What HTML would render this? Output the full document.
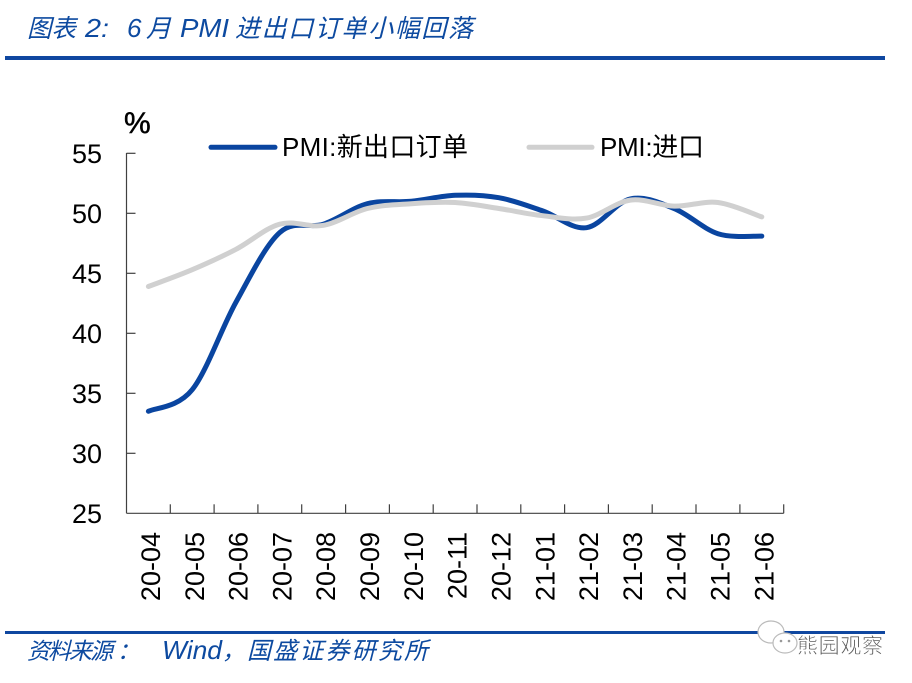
<!DOCTYPE html>
<html>
<head>
<meta charset="utf-8">
<style>
  html, body { margin:0; padding:0; background:#ffffff; }
  body { width:912px; height:683px; overflow:hidden; }
  svg { display:block; }
</style>
</head>
<body>
<svg width="912" height="683" viewBox="0 0 912 683" xmlns="http://www.w3.org/2000/svg">
  <rect x="0" y="0" width="912" height="683" fill="#ffffff"/>

  <!-- Title -->
  <g fill="#0d4aa0" font-style="italic" font-family="Liberation Sans, Noto Sans CJK SC, sans-serif">
    <text x="27" y="37" font-size="25" textLength="49" lengthAdjust="spacingAndGlyphs">图表</text>
    <text x="85" y="37" font-size="26" textLength="24" lengthAdjust="spacingAndGlyphs">2:</text>
    <text x="127" y="37" font-size="26">6</text>
    <text x="146" y="37" font-size="25">月</text>
    <text x="180" y="37" font-size="26" textLength="49" lengthAdjust="spacingAndGlyphs">PMI</text>
    <text x="235" y="37" font-size="25" textLength="238" lengthAdjust="spacing">进出口订单小幅回落</text>
  </g>
  <!-- top rule -->
  <rect x="5" y="56" width="880" height="4" fill="#0f47a0"/>

  <!-- Axes -->
  <g stroke="#404040" stroke-width="1.2" fill="none">
    <line x1="126.5" y1="153" x2="126.5" y2="513.3"/>
    <line x1="126.5" y1="513.3" x2="783.7" y2="513.3"/>
    <line x1="126.5" y1="153.3" x2="135.5" y2="153.3"/>
    <line x1="126.5" y1="213.3" x2="135.5" y2="213.3"/>
    <line x1="126.5" y1="273.3" x2="135.5" y2="273.3"/>
    <line x1="126.5" y1="333.3" x2="135.5" y2="333.3"/>
    <line x1="126.5" y1="393.3" x2="135.5" y2="393.3"/>
    <line x1="126.5" y1="453.3" x2="135.5" y2="453.3"/>
    <line x1="170.3" y1="504.3" x2="170.3" y2="513.3"/>
    <line x1="214.1" y1="504.3" x2="214.1" y2="513.3"/>
    <line x1="257.9" y1="504.3" x2="257.9" y2="513.3"/>
    <line x1="301.7" y1="504.3" x2="301.7" y2="513.3"/>
    <line x1="345.6" y1="504.3" x2="345.6" y2="513.3"/>
    <line x1="389.4" y1="504.3" x2="389.4" y2="513.3"/>
    <line x1="433.2" y1="504.3" x2="433.2" y2="513.3"/>
    <line x1="477.0" y1="504.3" x2="477.0" y2="513.3"/>
    <line x1="520.8" y1="504.3" x2="520.8" y2="513.3"/>
    <line x1="564.6" y1="504.3" x2="564.6" y2="513.3"/>
    <line x1="608.4" y1="504.3" x2="608.4" y2="513.3"/>
    <line x1="652.2" y1="504.3" x2="652.2" y2="513.3"/>
    <line x1="696.0" y1="504.3" x2="696.0" y2="513.3"/>
    <line x1="739.9" y1="504.3" x2="739.9" y2="513.3"/>
    <line x1="783.7" y1="504.3" x2="783.7" y2="513.3"/>
  </g>

  <!-- Y labels -->
  <g font-family="Liberation Sans, sans-serif" font-size="27" fill="#000" text-anchor="end">
    <text x="102" y="163">55</text>
    <text x="102" y="223">50</text>
    <text x="102" y="283">45</text>
    <text x="102" y="343">40</text>
    <text x="102" y="403">35</text>
    <text x="102" y="463">30</text>
    <text x="102" y="523">25</text>
  </g>
  <text x="124" y="133" font-family="Liberation Sans, sans-serif" font-size="30" fill="#000" stroke="#000" stroke-width="0.5">%</text>

  <!-- X labels -->
  <g font-family="Liberation Sans, sans-serif" font-size="27" fill="#000" text-anchor="end">
    <text transform="translate(160,532) rotate(-90)">20-04</text>
    <text transform="translate(203.8,532) rotate(-90)">20-05</text>
    <text transform="translate(247.6,532) rotate(-90)">20-06</text>
    <text transform="translate(291.4,532) rotate(-90)">20-07</text>
    <text transform="translate(335.2,532) rotate(-90)">20-08</text>
    <text transform="translate(379.0,532) rotate(-90)">20-09</text>
    <text transform="translate(422.9,532) rotate(-90)">20-10</text>
    <text transform="translate(466.7,532) rotate(-90)">20-11</text>
    <text transform="translate(510.5,532) rotate(-90)">20-12</text>
    <text transform="translate(554.3,532) rotate(-90)">21-01</text>
    <text transform="translate(598.1,532) rotate(-90)">21-02</text>
    <text transform="translate(641.9,532) rotate(-90)">21-03</text>
    <text transform="translate(685.7,532) rotate(-90)">21-04</text>
    <text transform="translate(729.6,532) rotate(-90)">21-05</text>
    <text transform="translate(773.4,532) rotate(-90)">21-06</text>
  </g>

  <!-- Series: blue (new export orders) -->
  <path fill="none" stroke="#0a45a0" stroke-width="5" stroke-linecap="round" stroke-linejoin="round"
    d="M148.4,411.3
       C155.7,407.7 177.6,407.9 192.2,389.7
       C206.8,371.5 221.4,328.3 236.0,302.1
       C250.6,275.9 265.2,245.5 279.8,232.5
       C294.4,219.5 309.0,228.9 323.6,224.1
       C338.2,219.3 352.8,207.5 367.4,203.7
       C382.0,199.9 396.7,202.7 411.3,201.3
       C425.9,199.9 440.5,195.9 455.1,195.3
       C469.7,194.7 484.3,195.1 498.9,197.7
       C513.5,200.3 528.1,205.9 542.7,210.9
       C557.3,215.9 571.9,229.7 586.5,227.7
       C601.1,225.7 615.7,202.1 630.3,198.9
       C644.9,195.7 659.5,202.7 674.1,208.5
       C688.7,214.3 703.4,229.1 718.0,233.7
       C732.6,238.3 754.5,235.7 761.8,236.1"/>

  <!-- Series: gray (imports) -->
  <path fill="none" stroke="#d0d0d0" stroke-width="5" stroke-linecap="round" stroke-linejoin="round"
    d="M148.4,286.5
       C155.7,283.7 177.6,275.9 192.2,269.7
       C206.8,263.5 221.4,256.9 236.0,249.3
       C250.6,241.7 265.2,228.1 279.8,224.1
       C294.4,220.1 309.0,227.9 323.6,225.3
       C338.2,222.7 352.8,212.1 367.4,208.5
       C382.0,204.9 396.7,204.7 411.3,203.7
       C425.9,202.7 440.5,201.7 455.1,202.5
       C469.7,203.3 484.3,206.3 498.9,208.5
       C513.5,210.7 528.1,214.1 542.7,215.7
       C557.3,217.3 571.9,220.7 586.5,218.1
       C601.1,215.5 615.7,202.1 630.3,200.1
       C644.9,198.1 659.5,205.7 674.1,206.1
       C688.7,206.5 703.4,200.7 718.0,202.5
       C732.6,204.3 754.5,214.5 761.8,216.9"/>

  <!-- Legend -->
  <line x1="211" y1="147.3" x2="275" y2="147.3" stroke="#0a45a0" stroke-width="5" stroke-linecap="round"/>
  <text x="282" y="156" font-family="Liberation Sans, Noto Sans CJK SC, sans-serif" font-size="26" fill="#000" textLength="186" lengthAdjust="spacing">PMI:新出口订单</text>
  <line x1="529" y1="147.3" x2="592" y2="147.3" stroke="#d0d0d0" stroke-width="5" stroke-linecap="round"/>
  <text x="600" y="156" font-family="Liberation Sans, Noto Sans CJK SC, sans-serif" font-size="26" fill="#000" textLength="104" lengthAdjust="spacing">PMI:进口</text>

  <!-- bottom rule -->
  <rect x="5" y="631" width="880" height="3" fill="#0f47a0"/>

  <!-- Footer source -->
  <g fill="#0d4aa0" font-style="italic" font-family="Liberation Sans, Noto Sans CJK SC, sans-serif">
    <text x="27" y="659" font-size="23" textLength="86" lengthAdjust="spacing">资料来源</text>
    <text x="117" y="659" font-size="23">：</text>
    <text x="162" y="659" font-size="26" textLength="60" lengthAdjust="spacingAndGlyphs">Wind</text>
    <text x="222" y="659" font-size="23">，</text>
    <text x="247" y="659" font-size="24" textLength="181" lengthAdjust="spacing">国盛证券研究所</text>
  </g>

  <!-- Watermark -->
  <g>
    <ellipse cx="771" cy="632" rx="13" ry="11" fill="#ffffff" stroke="#bbbbbb" stroke-width="1.2"/>
    <ellipse cx="785" cy="643" rx="12" ry="10" fill="#ffffff" stroke="#bbbbbb" stroke-width="1.2"/>
    <circle cx="781" cy="641" r="1.3" fill="#999"/>
    <circle cx="789" cy="641" r="1.3" fill="#999"/>
    <text x="797" y="653" font-family="Noto Sans CJK SC, sans-serif" font-size="21" fill="#555555" stroke="#ffffff" stroke-width="0.6" textLength="86" lengthAdjust="spacing">熊园观察</text>
  </g>
</svg>
</body>
</html>
